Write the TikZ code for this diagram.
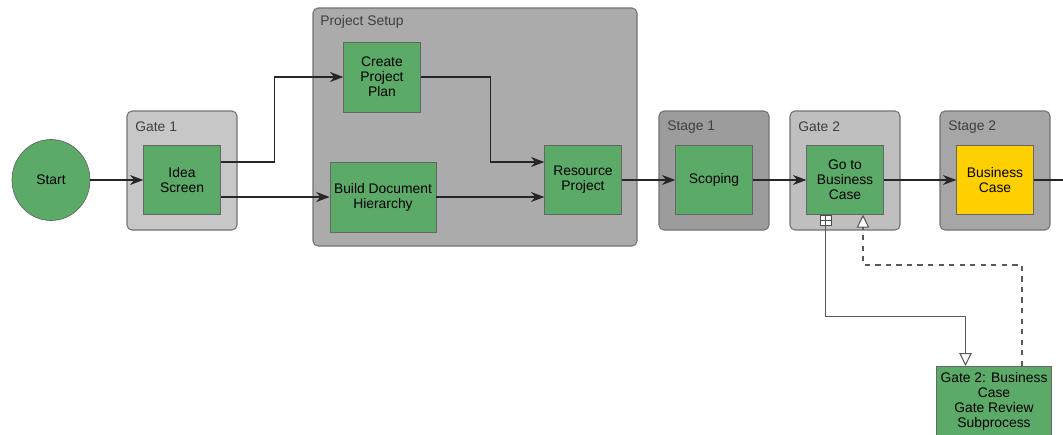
\documentclass[tikz,border=0pt]{standalone}
\usepackage{fontspec}
\setmainfont{Liberation Sans}
\usetikzlibrary{arrows.meta,shapes.geometric}
\definecolor{taskgreen}{RGB}{92,170,104}
\definecolor{taskyellow}{RGB}{255,208,0}
\tikzset{
  task/.style={draw=black!60, fill=taskgreen, minimum width=1.53cm, minimum height=1.37cm,
    align=center, inner sep=1pt, font=\fontsize{7.9}{8.6}\selectfont},
  lane/.style={draw=black!55, rounded corners=0.1cm, line width=0.6pt},
  lanelabel/.style={anchor=west, inner sep=0pt, text=black!75, font=\fontsize{7.9}{9}\selectfont},
  flow/.style={draw=black!85, line width=0.8pt, -{Stealth[length=0.27cm,width=0.2cm]}},
  subflow/.style={draw=black!65, line width=0.6pt, -{Triangle[open,fill=white,length=0.26cm,width=0.25cm]}},
}
\begin{document}
\begin{tikzpicture}[x=0.02cm,y=-0.02cm]
\useasboundingbox (0,0) rectangle (1063,434);

% lanes
\draw[lane,fill=black!33] (313,8) rectangle (637,246);
\node[lanelabel] (lbl-ps) at (320,22) {Project Setup};
\foreach \x/\c/\t/\n in {127/22/Gate 1/g1, 659/39/Stage 1/s1, 790/25/Gate 2/g2, 940/35/Stage 2/s2}{
  \draw[lane,fill=black!\c] (\x,111) rectangle ++(110,119);
  \node[lanelabel] (lbl-\n) at (\x+8,127) {\t};
}

% tasks
\node[task,ellipse,minimum width=1.56cm,minimum height=1.62cm] (start) at (51,180) {Start};
\node[task] (idea) at (182,180) {Idea\\Screen};
\node[task,minimum height=1.4cm] (plan) at (382,77) {Create\\Project\\Plan};
\node[task,minimum width=2.12cm,minimum height=1.4cm] (build) at (383,197) {Build Document\\Hierarchy};
\node[task] (res) at (583,180) {Resource\\Project};
\node[task] (scope) at (714,180) {Scoping};
\node[task] (go) at (845,180) {Go to\\Business\\Case};
\node[task,fill=taskyellow] (bcase) at (995,180) {Business\\Case};
\node[task,anchor=north,minimum width=2.3cm,minimum height=1.4cm] (sub) at (994,366)
  {Gate 2: Business\\Case\\Gate Review\\Subprocess};
\node[draw=black!70,fill=white,minimum width=0.22cm,minimum height=0.2cm,inner sep=0pt,anchor=north]
  (mk) at ([xshift=-0.39cm]go.south) {};
\draw[black!70] (mk.north) -- (mk.south) (mk.west) -- (mk.east);
\coordinate (exit) at (1063,180);

% flows
\draw[flow] (start) -- (idea);
\draw[flow] ([yshift=0.36cm]idea.east) -- ++(54,0) |- (plan);
\draw[flow] (idea.east |- build) -- (build);
\draw[flow] (plan.east) -- ++(70,0) |- ([yshift=0.36cm]res.west);
\draw[flow] (build) -- (build -| res.west);
\draw[flow] (res) -- (scope);
\draw[flow] (scope) -- (go);
\draw[flow] (go) -- (bcase);
\draw[flow,-] (bcase) -- (exit);
\draw[subflow] (mk.south) -- ++(0,91) -| ([xshift=-0.57cm]sub.north);
\draw[subflow,dashed] ([xshift=0.56cm]sub.north) -- ++(0,-101) -| ([xshift=0.36cm]go.south);
\end{tikzpicture}
\end{document}
